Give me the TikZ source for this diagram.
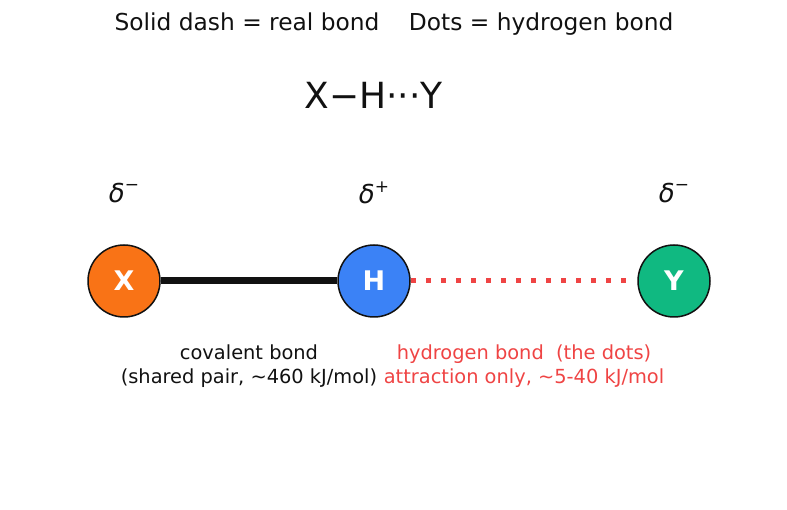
\documentclass[tikz,border=0pt]{standalone}
\usepackage{fontspec}
\setmainfont{DejaVu Sans}
\usetikzlibrary{positioning,calc}

\definecolor{atomX}{HTML}{F97316}
\definecolor{atomH}{HTML}{3B82F6}
\definecolor{atomY}{HTML}{10B981}
\definecolor{hbond}{HTML}{EF4444}
\definecolor{ink}{HTML}{111111}

\newcommand{\dminus}{\raisebox{0.45em}{\fontsize{17}{17}\selectfont\upshape −}}
\newcommand{\dplus}{\raisebox{0.45em}{\fontsize{17}{17}\selectfont\upshape +}}

\begin{document}
\begin{tikzpicture}[
    x=1pt, y=-1pt,
    every node/.style={text=ink, inner sep=0pt},
    atom/.style={circle, draw=ink, line width=1.5pt, minimum size=72pt,
                 text=white, font=\fontsize{27}{27}\selectfont\bfseries},
    charge/.style={font=\fontsize{26}{26}\selectfont\itshape},
    bondlabel/.style={align=center, font=\fontsize{19.4}{23.3}\selectfont},
    covalent/.style={draw=ink, line width=7pt},
    hydrogen/.style={draw=hbond, line width=5pt, dash pattern=on 5pt off 10pt,
                     dash phase=14.5pt, shorten >=2pt}
]
  \useasboundingbox (0,0) rectangle (787,510);

  \node[font=\fontsize{23.3}{23.3}\selectfont] (legend) at (394,24)
    {Solid dash = real bond\hspace{1.27em}Dots = hydrogen bond};
  \node[font=\fontsize{36}{36}\selectfont] (formula) at (373.5,95) {X−H···Y};

  \node[atom, fill=atomX] (X) at (124,281) {X};
  \node[atom, fill=atomH] (H) at (374,281) {H};
  \node[atom, fill=atomY] (Y) at (674,281) {Y};

  \node[charge] (qX) at ($(X)+(0,-88)$) {δ\dminus};
  \node[charge] (qH) at ($(H)+(0,-88)$) {δ\dplus};
  \node[charge] (qY) at ($(Y)+(0,-88)$) {δ\dminus};

  \draw[covalent] (X) -- (H);
  \draw[hydrogen] (H) -- (Y);

  \node[bondlabel] (covlabel) at ($(X)!0.5!(H)+(0,85)$)
    {covalent bond\\(shared pair, \char`~460 kJ/mol)};
  \node[bondlabel, text=hbond] (hlabel) at ($(H)!0.5!(Y)+(0,85)$)
    {hydrogen bond\ \ (the dots)\\attraction only, \char`~5-40 kJ/mol};
\end{tikzpicture}
\end{document}
